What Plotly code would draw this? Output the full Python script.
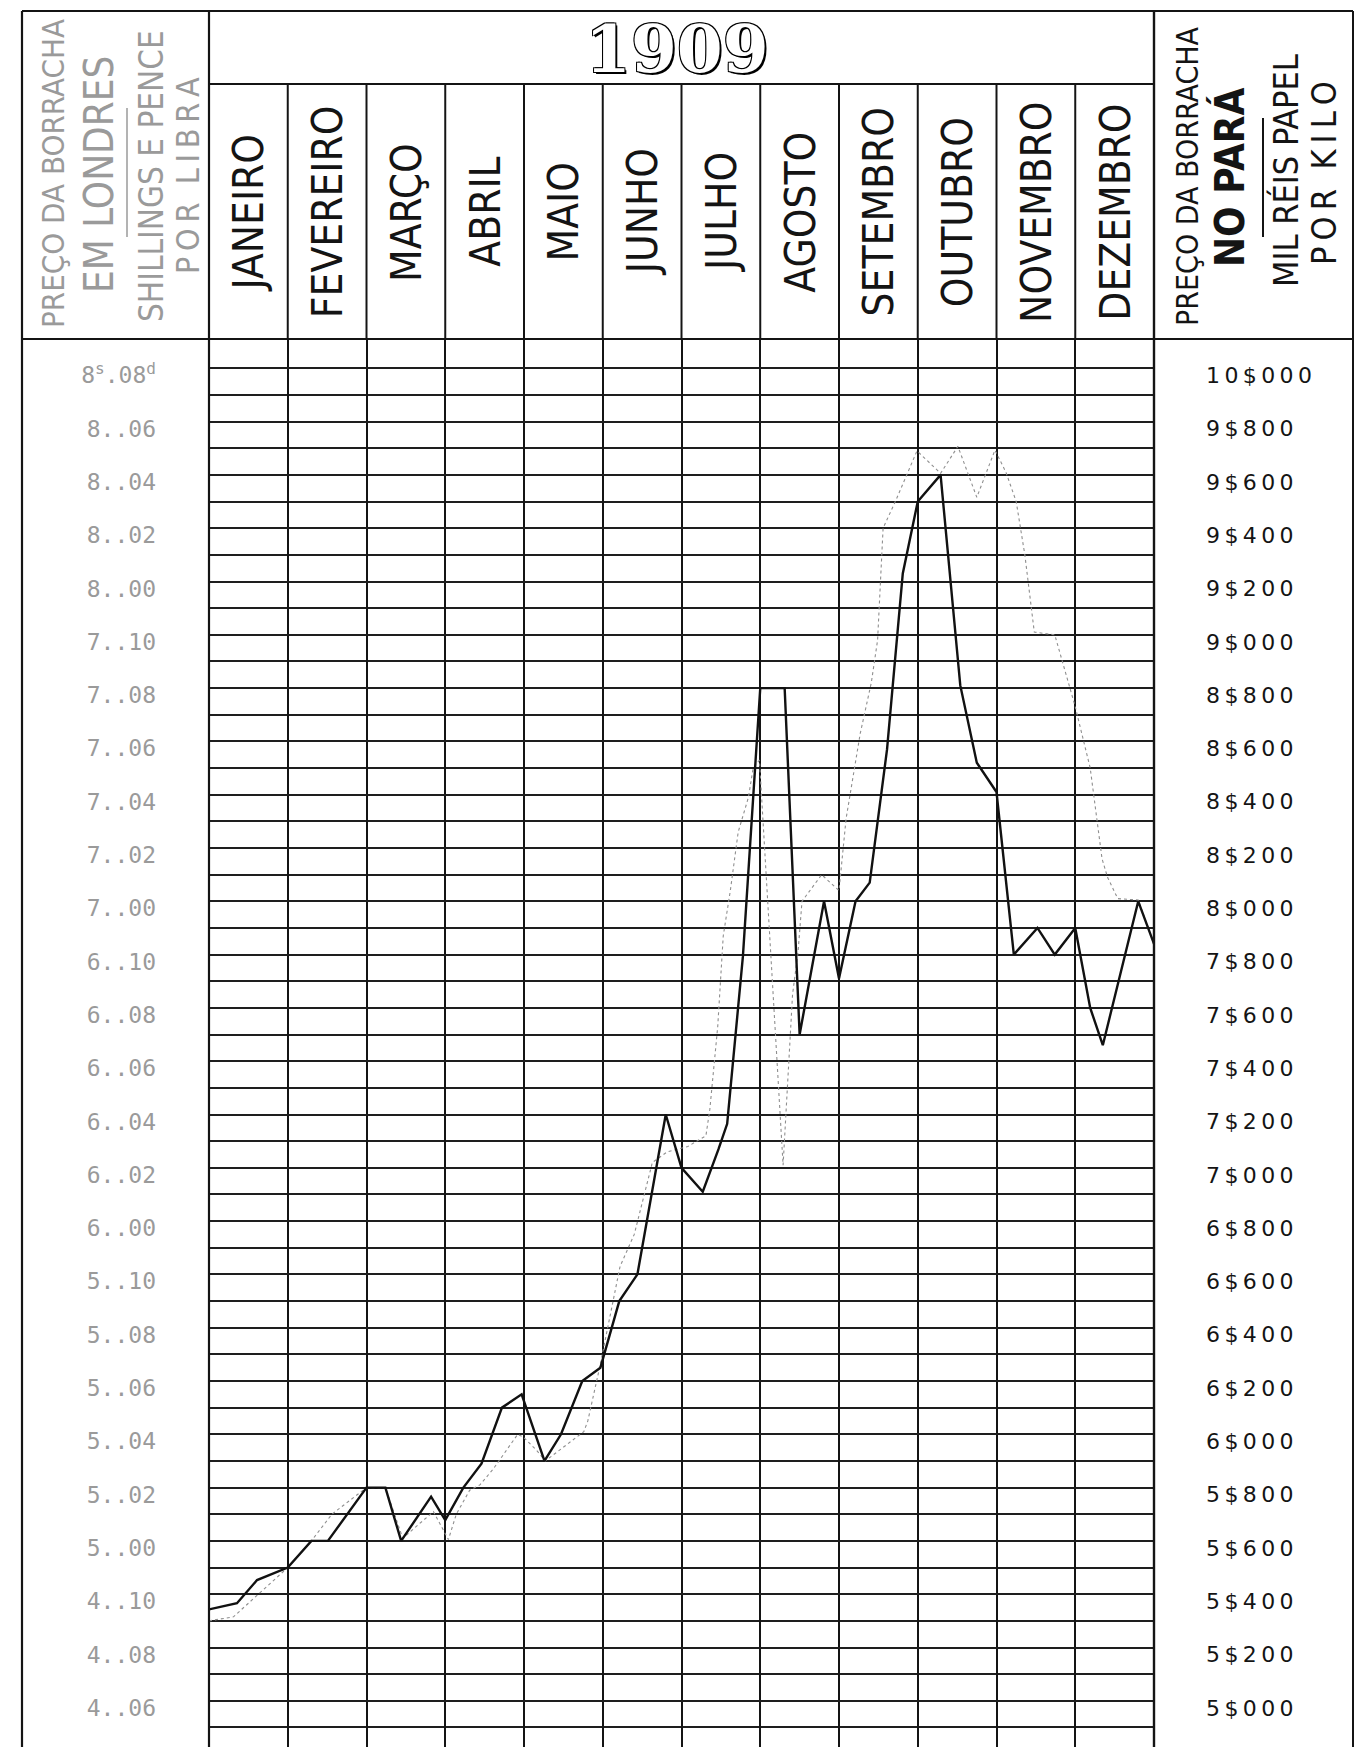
import plotly.graph_objects as go

# ---------------- DATA ----------------
MONTHS = ["JANEIRO", "FEVEREIRO", "MARÇO", "ABRIL", "MAIO", "JUNHO", "JULHO",
          "AGOSTO", "SETEMBRO", "OUTUBRO", "NOVEMBRO", "DEZEMBRO"]

# London price (black line): position in months (0 = 1 Jan, 12 = 31 Dec), price in pence per lb
LONDON_X = [0.0, 0.355, 0.61, 1.0, 1.30, 1.51, 2.0, 2.24, 2.44, 2.82, 3.0, 3.23, 3.46, 3.72,
            3.97, 4.26, 4.47, 4.74, 4.97, 5.21, 5.44, 5.80, 6.0, 6.27, 6.47, 6.58, 6.78, 7.0,
            7.31, 7.5, 7.81, 8.0, 8.21, 8.39, 8.61, 8.81, 9.0, 9.29, 9.54, 9.75, 10.0, 10.22,
            10.52, 10.74, 11.0, 11.19, 11.35, 11.80, 12.0]
LONDON_PENCE = [57.43, 57.66, 58.53, 59.0, 60.0, 60.0, 62.0, 62.0, 60.0, 61.66, 60.78, 62.0,
                62.9, 65.0, 65.5, 63.0, 64.0, 66.0, 66.5, 69.0, 70.0, 76.0, 74.0, 73.1, 74.7,
                75.65, 81.94, 92.0, 92.0, 79.0, 84.0, 81.1, 84.0, 84.7, 89.7, 96.3, 99.0, 100.0,
                92.1, 89.2, 88.1, 82.0, 83.0, 82.0, 83.0, 80.0, 78.6, 84.0, 82.4]

# Pará price (grey line): position in months, price in réis (papel) per kilo
PARA_X = [0.0, 0.31, 1.0, 1.30, 1.56, 2.0, 2.24, 2.46, 2.85, 3.04, 3.14, 3.31, 3.44, 3.61,
          3.92, 3.99, 4.16, 4.27, 4.76, 4.81, 4.96, 5.03, 5.22, 5.40, 5.63, 5.82, 6.08, 6.31,
          6.36, 6.46, 6.53, 6.62, 6.72, 6.85, 6.91, 6.99, 7.29, 7.41, 7.48, 7.53, 7.78, 8.0,
          8.09, 8.27, 8.41, 8.49, 8.56, 8.73, 8.99, 9.29, 9.51, 9.75, 9.98, 10.12, 10.25,
          10.36, 10.48, 10.74, 10.93, 11.0, 11.19, 11.34, 11.41, 11.54, 11.80, 12.0]
PARA_REIS = [5300, 5315, 5500, 5600, 5700, 5800, 5800, 5610, 5710, 5605, 5700, 5790, 5810, 5870,
             6000, 5990, 5940, 5900, 6010, 6050, 6250, 6350, 6630, 6750, 7020, 7060, 7080, 7120,
             7220, 7530, 7870, 8040, 8260, 8390, 8500, 8530, 7010, 7650, 7810, 8000, 8100, 8040,
             8310, 8630, 8820, 8980, 9400, 9510, 9690, 9606, 9707, 9516, 9693, 9610, 9500,
             9300, 9010, 9000, 8800, 8730, 8500, 8160, 8090, 8010, 8005, 7840]

# Axis ticks
PENCE_TICKS = list(range(54, 105, 2))          # 4s 6d ... 8s 8d
REIS_TICKS = list(range(5000, 10001, 200))     # 5$000 ... 10$000
REIS_MINOR = list(range(4900, 10000, 200))

# ---------------- GEOMETRY ----------------
W, H = 1356, 1747
L, R, T, B = 209, 1154, 339, 1747
PX_PER_PENNY = 26.65
P_TOP = 104 + (368.3 - T) / PX_PER_PENNY
P_BOT = 104 - (B - 368.3) / PX_PER_PENNY


def pence_to_reis(p):
    return 5000 + (p - 54) * 100


def px(x):
    return (x - L) / (R - L)


def py(y):
    return (B - y) / (B - T)


def pence_label(p):
    s, d = divmod(p, 12)
    if p == 104:
        return f"{s}<sup>s</sup>.{d:02d}<sup>d</sup>"
    return f"{s}..{d:02d}"


def reis_label(r):
    txt = f"{r // 1000}${r % 1000:03d}"
    return "\u2009".join(txt)


COND = "Liberation Sans Narrow, DejaVu Sans Condensed, Roboto Condensed, Liberation Sans, sans-serif"
GREY_TXT = "#9a9a9a"
INK = "#141414"

fig = go.Figure()

fig.add_trace(go.Scatter(
    x=PARA_X, y=PARA_REIS, mode="lines", yaxis="y", xaxis="x",
    line=dict(color="#8f8f8f", width=1.1, dash="dot"),
    name="Pará", showlegend=False, hoverinfo="skip"))

fig.add_trace(go.Scatter(
    x=LONDON_X, y=LONDON_PENCE, mode="lines", yaxis="y2", xaxis="x",
    line=dict(color="#111111", width=2.4),
    name="Londres", showlegend=False, hoverinfo="skip"))

shapes = []


def hline(y, x0, x1, w=2, c=INK):
    shapes.append(dict(type="line", xref="paper", yref="paper", x0=px(x0), x1=px(x1),
                       y0=py(y), y1=py(y), line=dict(color=c, width=w), layer="above"))


def vline(x, y0, y1, w=2, c=INK):
    shapes.append(dict(type="line", xref="paper", yref="paper", x0=px(x), x1=px(x),
                       y0=py(y0), y1=py(y1), line=dict(color=c, width=w), layer="above"))


# frame
hline(11, 22, 1353, 2)
hline(84, L, R, 2)
hline(339, 22, 1353, 2)
vline(22, 11, H, 2.2)
vline(L, 11, H, 2.2)
vline(R, 11, H, 2.4)
vline(1353, 11, H, 2)
# month separators in header
for i in range(1, 12):
    shapes.append(dict(type="line", xref="x", yref="paper", x0=i, x1=i,
                       y0=py(339), y1=py(84), line=dict(color=INK, width=2), layer="above"))
# fraction bars in side headers
vline(127, 108, 237, 1.5, GREY_TXT)
vline(1263, 118, 237, 2, INK)

annotations = []
# title
annotations.append(dict(
    text="1909", xref="paper", yref="paper", x=px(677), y=py(49), showarrow=False,
    xanchor="center", yanchor="middle",
    font=dict(family="DejaVu Serif, Liberation Serif, serif", size=66, color="white",
              weight="bold",
              shadow="1px 1px 0 #000, -1px -1px 0 #000, 1px -1px 0 #000, -1px 1px 0 #000, 2px 2px 0 #000")))
# months
for i, m in enumerate(MONTHS):
    annotations.append(dict(
        text=m, xref="x", yref="paper", x=i + 0.5, y=py(212), showarrow=False,
        textangle=-90, xanchor="center", yanchor="middle",
        font=dict(family=COND, size=42, color=INK)))


def side_text(t, x, y, size, color, bold=False):
    annotations.append(dict(
        text=t, xref="paper", yref="paper", x=px(x), y=py(y), showarrow=False,
        textangle=-90, xanchor="center", yanchor="middle",
        font=dict(family=COND, size=size, color=color, weight="bold" if bold else "normal")))


side_text("PREÇO DA BORRACHA", 53, 174, 31, GREY_TXT)
side_text("EM LONDRES", 99, 175, 40, GREY_TXT)
side_text("SHILLINGS E PENCE", 151, 176, 33, GREY_TXT)
side_text("\u2009".join("POR") + "  " + "\u2009".join("LIBRA"), 188, 176, 32, GREY_TXT)

side_text("PREÇO DA BORRACHA", 1187, 176, 30, INK)
side_text("NO PARÁ", 1229, 178, 40, INK, bold=True)
side_text("MIL RÉIS PAPEL", 1286, 171, 34, INK)
side_text("\u2009".join("POR") + "  " + "\u2009".join("KILO"), 1324, 173, 34, INK)

fig.update_layout(
    width=W, height=H,
    margin=dict(l=L, r=W - R, t=T, b=0, pad=0),
    paper_bgcolor="white", plot_bgcolor="white",
    showlegend=False,
    xaxis=dict(range=[0, 12], tickvals=list(range(0, 13)), showgrid=True,
               gridcolor=INK, gridwidth=2, showticklabels=False, ticks="",
               zeroline=False, showline=False, fixedrange=True),
    yaxis=dict(range=[pence_to_reis(P_BOT), pence_to_reis(P_TOP)], side="right",
               tickvals=REIS_TICKS, ticktext=[reis_label(r) for r in REIS_TICKS],
               showgrid=True, gridcolor="#1e1e1e", gridwidth=1.6,
               minor=dict(tickvals=REIS_MINOR, showgrid=True, gridcolor="#1e1e1e",
                          gridwidth=1.6, ticks=""),
               ticks="", zeroline=False, showline=False,
               ticklabelstandoff=51, ticklabelshift=7,
               tickfont=dict(family="DejaVu Sans, Liberation Sans, sans-serif", size=22, color=INK)),
    yaxis2=dict(range=[P_BOT, P_TOP], overlaying="y", side="left",
                tickvals=PENCE_TICKS, ticktext=[pence_label(p) for p in PENCE_TICKS],
                showgrid=False, ticks="", zeroline=False, showline=False,
                ticklabelstandoff=52, ticklabelshift=7,
                tickfont=dict(family="DejaVu Sans Mono, Liberation Mono, monospace", size=23,
                              color=GREY_TXT)),
    shapes=shapes,
    annotations=annotations,
)

fig.write_html("out.html", config={"displayModeBar": False},
               post_script="document.body.style.margin='0';")
